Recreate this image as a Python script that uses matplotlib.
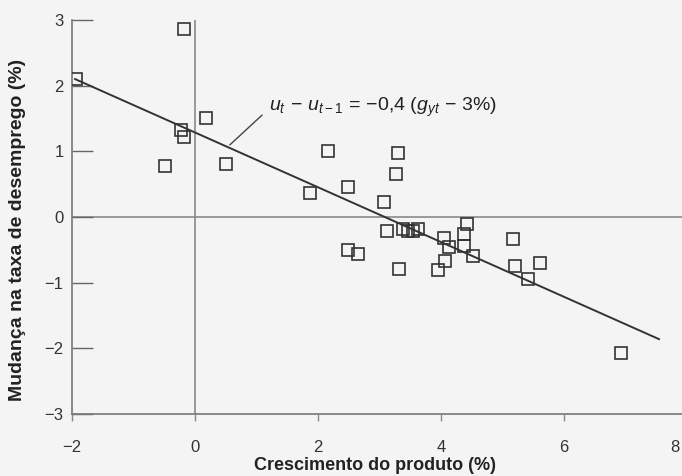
import matplotlib
matplotlib.use("Agg")
import matplotlib.pyplot as plt
import matplotlib.transforms as mtransforms

plt.rcParams['font.family'] = ['Liberation Sans', 'DejaVu Sans']
plt.rcParams['mathtext.fontset'] = 'custom'
plt.rcParams['mathtext.rm'] = 'Liberation Sans'
plt.rcParams['mathtext.it'] = 'Liberation Sans:italic'
plt.rcParams['mathtext.bf'] = 'Liberation Sans:bold'

# Observations: output growth (%) vs change in unemployment rate (%)
growth = [-1.93, -0.18, -0.23, -0.17, 0.18, -0.48, 0.50, 1.87, 2.17, 2.49,
          3.31, 3.27, 3.08, 3.13, 3.38, 3.46, 3.55, 3.63, 2.49, 2.65,
          3.32, 3.95, 4.07, 4.05, 4.14, 4.37, 4.42, 4.38, 4.52, 5.17,
          5.20, 5.62, 5.42, 6.94]
unemp_change = [2.10, 2.86, 1.32, 1.22, 1.51, 0.78, 0.80, 0.36, 1.01, 0.45,
                0.98, 0.65, 0.23, -0.21, -0.18, -0.22, -0.22, -0.19, -0.50, -0.57,
                -0.79, -0.80, -0.67, -0.32, -0.46, -0.26, -0.10, -0.44, -0.60, -0.34,
                -0.74, -0.70, -0.95, -2.07]

# Fitted line endpoints (as drawn)
fit_x = [-1.95, 7.55]
fit_y = [2.10, -1.86]

x_ticks = [-2, 0, 2, 4, 6, 8]
y_ticks = [-3, -2, -1, 0, 1, 2, 3]

fig = plt.figure(figsize=(6.82, 4.76), dpi=100)
fig.patch.set_facecolor('#f4f4f4')
ax = fig.add_axes([0.1056, 0.1303, 0.9012, 0.8277])
ax.set_facecolor('#f4f4f4')

ax.set_xlim(-2, 8)
ax.set_ylim(-3, 3)

# reference axes through origin
ax.axhline(0, color='#8a8a8a', lw=1.2, zorder=1)
ax.axvline(0, color='#8a8a8a', lw=1.2, zorder=1)

ax.plot(fit_x, fit_y, color='#333333', lw=1.4, zorder=2)
ax.plot(growth, unemp_change, linestyle='none', marker='s', markersize=8,
        markerfacecolor='none', markeredgecolor='#333333', markeredgewidth=1.2,
        zorder=3)

ax.plot([0.57, 1.09], [1.10, 1.55], color='#444444', lw=1.0, zorder=2)
ax.text(1.2, 1.67, r"$u_t\, -\, u_{t-1}\, =\, {-}0{,}4\ (g_{yt}\, -\, 3\%)$",
        fontsize=14, color='#222222', va='center', ha='left')

for s in ['top', 'right']:
    ax.spines[s].set_visible(False)
for s in ['left', 'bottom']:
    ax.spines[s].set_color('#777777')
    ax.spines[s].set_linewidth(1.2)

ax.set_xticks(x_ticks)
ax.set_yticks(y_ticks)
ax.set_xticklabels(['\u22122', '0', '2', '4', '6', '8'])
ax.set_yticklabels(['\u22123', '\u22122', '\u22121', '0', '1', '2', '3'])
ax.tick_params(axis='y', direction='in', length=15, width=1.0, color='#666666',
               labelsize=12, labelcolor='#333333', pad=6)
ax.tick_params(axis='x', direction='out', length=5, width=1.0, color='#888888',
               labelsize=12, labelcolor='#333333', pad=14)
# last tick label sits at the figure edge: keep it fully visible
last = ax.get_xticklabels()[-1]
last.set_horizontalalignment('right')
last.set_transform(last.get_transform() +
                   mtransforms.ScaledTranslation(-7 / 100, 0, fig.dpi_scale_trans))

ax.set_xlabel('Crescimento do produto (%)', fontsize=13, fontweight='bold',
              color='#222222')
ax.set_ylabel('Mudança na taxa de desemprego (%)', fontsize=14, fontweight='bold',
              color='#222222')
ax.xaxis.set_label_coords(0.493, -0.108)
ax.yaxis.set_label_coords(-0.075, 0.467)

fig.savefig('out.png', dpi=100, facecolor=fig.get_facecolor())
